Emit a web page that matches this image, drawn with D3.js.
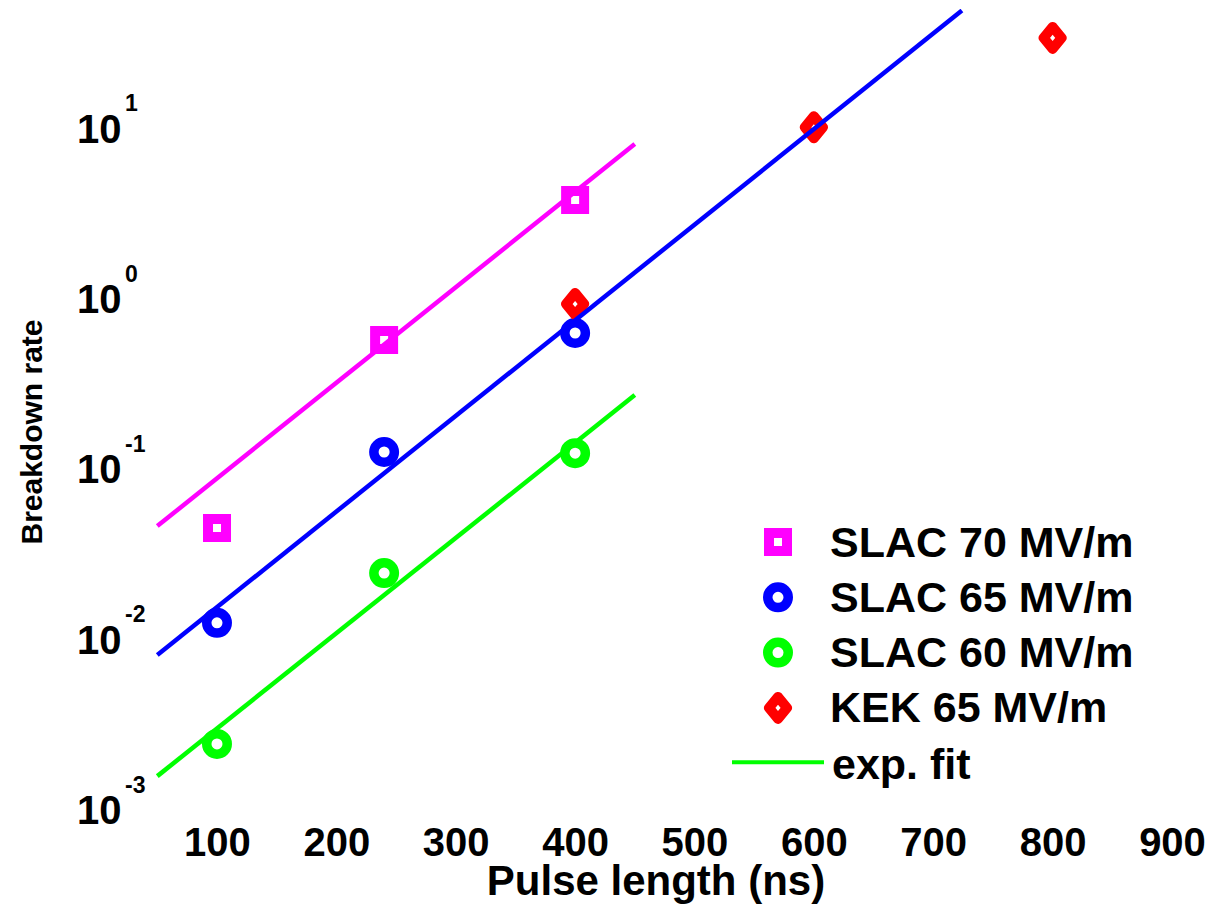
<!DOCTYPE html>
<html>
<head>
<meta charset="utf-8">
<script src="https://cdn.jsdelivr.net/npm/d3@7"></script>
<style>
  html, body { margin: 0; padding: 0; background: #fff; }
  svg { display: block; }
  text { font-family: "Liberation Sans", Arial, Helvetica, sans-serif; font-weight: bold; fill: #000; }
</style>
</head>
<body>
<div id="chart"></div>
<script>
// ---------- data ----------
const xTicks = [100, 200, 300, 400, 500, 600, 700, 800, 900];
const yTicks = [1e-3, 1e-2, 1e-1, 1e0, 1e1];
const yExponents = ["-3", "-2", "-1", "0", "1"];

const slacPulse = [100, 240, 400];
const slac70 = [0.0447, 0.569, 3.78];
const slac65 = [0.0124, 0.125, 0.625];
const slac60 = [0.00241, 0.0243, 0.123];

const kekPulse = [400, 600, 800];
const kek65 = [0.925, 10.1, 33.8];

const fitPulse70 = [50, 450];
const fit70 = [0.0459, 8.05];
const fitPulse65 = [50, 724];
const fit65 = [0.00803, 49];
const fitPulse60 = [50, 450];
const fit60 = [0.00156, 0.270];

const legendLabels = ["SLAC 70 MV/m", "SLAC 65 MV/m", "SLAC 60 MV/m", "KEK 65 MV/m", "exp. fit"];

// ---------- layout ----------
const W = 1213, H = 913;
const pLeft = 157.3, pRight = 1172, pTop = 9, pBottom = 809;

const svg = d3.select("#chart").append("svg").attr("width", W).attr("height", H);

const x = d3.scaleLinear().domain([50, 900]).range([pLeft, pRight]);
const y = d3.scaleLog().domain([1e-3, 50]).range([pBottom, pTop]);

// clip
svg.append("defs").append("clipPath").attr("id", "plotclip")
  .append("rect").attr("x", pLeft - 20).attr("y", pTop).attr("width", pRight - pLeft + 40).attr("height", pBottom - pTop + 20);

// ---------- axes ----------
const xAxis = svg.append("g").attr("transform", `translate(0,${pBottom})`)
  .call(d3.axisBottom(x).tickValues(xTicks).tickSize(0).tickPadding(19).tickFormat(d3.format("d")));
xAxis.select(".domain").remove();
xAxis.selectAll("text").style("font-size", "40px").attr("fill", "#000")
  .style("font-family", "'Liberation Sans', Arial, sans-serif").style("font-weight", "bold");

const yAxis = svg.append("g").attr("transform", `translate(${pLeft},0)`)
  .call(d3.axisLeft(y).tickValues(yTicks).tickSize(0));
yAxis.select(".domain").remove();
yAxis.selectAll(".tick text").each(function(d, i) {
  const t = d3.select(this);
  t.text(null).attr("x", 0).attr("y", 0).attr("dy", null)
    .attr("text-anchor", "start").attr("fill", "#000")
    .style("font-family", "'Liberation Sans', Arial, sans-serif").style("font-weight", "bold");
  t.append("tspan").attr("x", 77 - pLeft).attr("y", 14.5).style("font-size", "40px").text("10");
  t.append("tspan").attr("x", 125 - pLeft).attr("y", -17).style("font-size", "23px").text(yExponents[i]);
});

// axis labels
svg.append("text").attr("x", 656).attr("y", 895).attr("text-anchor", "middle")
  .style("font-size", "42px").text("Pulse length (ns)");
svg.append("text").attr("transform", "translate(42,432) rotate(-90)").attr("text-anchor", "middle")
  .style("font-size", "30px").text("Breakdown rate");

// ---------- marker shapes ----------
const diamondType = {
  draw(ctx, size) {
    const a = 9, b = 11;
    ctx.moveTo(0, -b); ctx.lineTo(a, 0); ctx.lineTo(0, b); ctx.lineTo(-a, 0); ctx.closePath();
  }
};
const squareSym = d3.symbol().type(d3.symbolSquare).size(18 * 18);
const circleSym = d3.symbol().type(d3.symbolCircle).size(Math.PI * 10.25 * 10.25);
const diamondSym = d3.symbol().type(diamondType).size(1);

const plot = svg.append("g").attr("clip-path", "url(#plotclip)");

function drawMarkers(xs, ys, sym, color, sw, join) {
  plot.append("g").selectAll("path").data(xs.map((v, i) => [v, ys[i]])).join("path")
    .attr("d", sym)
    .attr("transform", d => `translate(${x(d[0])},${y(d[1])})`)
    .attr("fill", "none").attr("stroke", color).attr("stroke-width", sw)
    .attr("stroke-linejoin", join);
}
drawMarkers(slacPulse, slac70, squareSym, "#ff00ff", 10, "miter");
drawMarkers(slacPulse, slac65, circleSym, "#0000ff", 9.5, "round");
drawMarkers(slacPulse, slac60, circleSym, "#00ff00", 9.5, "round");
drawMarkers(kekPulse, kek65, diamondSym, "#ff0000", 10, "round");

// ---------- fit lines ----------
const line = d3.line().x(d => x(d[0])).y(d => y(d[1]));
function drawFit(xs, ys, color) {
  plot.append("path").datum(xs.map((v, i) => [v, ys[i]]))
    .attr("d", line).attr("fill", "none").attr("stroke", color).attr("stroke-width", 4.5);
}
drawFit(fitPulse70, fit70, "#ff00ff");
drawFit(fitPulse65, fit65, "#0000ff");
drawFit(fitPulse60, fit60, "#00ff00");

// ---------- legend ----------
const legY0 = 542, legDy = 55.3, legMX = 778, legTX = 830;
const legSyms = [
  { sym: squareSym, color: "#ff00ff", sw: 10, join: "miter" },
  { sym: circleSym, color: "#0000ff", sw: 9.5, join: "round" },
  { sym: circleSym, color: "#00ff00", sw: 9.5, join: "round" },
  { sym: diamondSym, color: "#ff0000", sw: 10, join: "round" }
];
const leg = svg.append("g");
legSyms.forEach((s, i) => {
  const cy = legY0 + i * legDy;
  leg.append("path").attr("d", s.sym).attr("transform", `translate(${legMX},${cy})`)
    .attr("fill", "none").attr("stroke", s.color).attr("stroke-width", s.sw).attr("stroke-linejoin", s.join);
  leg.append("text").attr("x", legTX).attr("y", cy + 14.5).style("font-size", "43px").text(legendLabels[i]);
});
const lineRowY = legY0 + 4 * legDy;
leg.append("line").attr("x1", 732).attr("x2", 824).attr("y1", lineRowY - 1).attr("y2", lineRowY - 1)
  .attr("stroke", "#00ff00").attr("stroke-width", 4);
leg.append("text").attr("x", 832).attr("y", lineRowY + 16).style("font-size", "43px").text(legendLabels[4]);
</script>
</body>
</html>
